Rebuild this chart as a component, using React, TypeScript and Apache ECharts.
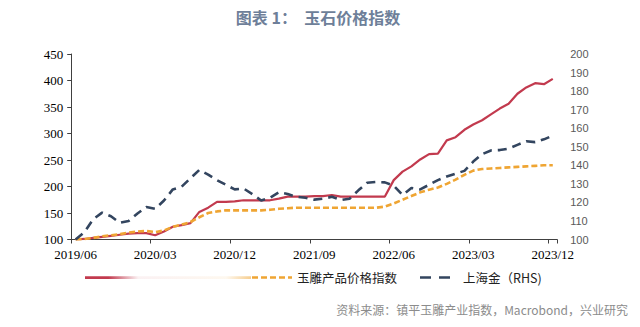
import React, { useEffect, useRef } from "react";
import * as echarts from "echarts";

const startYear = 2019;
const startMonth = 6;
const monthCount = 55;
const months: string[] = [];
for (let i = 0; i < monthCount; i++) {
  const m = startMonth - 1 + i;
  const y = startYear + Math.floor(m / 12);
  const mm = (m % 12) + 1;
  months.push(`${y}/${mm < 10 ? "0" + mm : mm}`);
}

const jadeIndex = [
  100, 101, 103, 105, 107, 109, 111, 112, 112, 108,
  115, 124, 127, 131, 152, 160, 171, 171, 172, 174,
  174, 174, 174, 177, 181, 181, 181, 182, 182, 184,
  181, 181, 181, 181, 181, 181, 212, 228, 238, 251,
  261, 262, 287, 293, 307, 317, 325, 336, 347, 356,
  375, 387, 395, 393, 403,
];

const carvingIndex = [
  100, 101, 103, 106, 108, 110, 113, 115, 116, 114,
  117, 124, 128, 133, 142, 150, 153, 155, 155, 155,
  155, 155, 156, 158, 159, 160, 160, 160, 160, 160,
  160, 160, 160, 160, 160, 162, 168, 175, 182, 189,
  194, 198, 205, 213, 222, 230, 233, 234, 235, 236,
  237, 238, 239, 240, 240,
];

const shanghaiGold = [
  100, 104, 111, 114.5, 112.5, 109, 110, 114, 117.5, 116.5,
  121, 127, 128.5, 133, 137.5, 135, 132, 129.5, 127, 127.5,
  124.5, 121, 122.5, 125.5, 124.5, 123, 122.5, 121.5, 122, 123,
  121.3, 122, 126.5, 130.6, 131, 130.8, 129, 124, 127.8, 127,
  129.5, 132, 134, 135.5, 137, 142, 146, 148, 148.2, 149,
  151, 153, 152.5, 154, 156,
];

const leftTicks = { min: 100, max: 450, interval: 50 };
const rightTicks = { min: 100, max: 200, interval: 10 };

const RED = "#C23A4E";
const ORANGE = "#EFA533";
const NAVY = "#33455F";

export default function App() {
  const ref = useRef<HTMLDivElement>(null);
  useEffect(() => {
    if (!ref.current) return;
    const chart = echarts.init(ref.current, undefined, { renderer: "svg" });
    chart.setOption({
      animation: false,
      backgroundColor: "#ffffff",
      grid: { left: 71.2, right: 82.8, top: 54, bottom: 87.5, containLabel: false },
      xAxis: {
        type: "category",
        data: months,
        boundaryGap: true,
        axisLine: { show: true, lineStyle: { color: "#404040", width: 1 } },
        axisTick: { show: true, interval: 8, length: 4, lineStyle: { color: "#404040" } },
        axisLabel: {
          interval: 8,
          margin: 8,
          color: "#000",
          fontFamily: "Liberation Serif",
          fontSize: 13,
        },
        splitLine: { show: false },
      },
      yAxis: [
        {
          type: "value",
          min: leftTicks.min,
          max: leftTicks.max,
          interval: leftTicks.interval,
          axisLine: { show: true, lineStyle: { color: "#404040", width: 1 } },
          axisTick: { show: true, length: 4, lineStyle: { color: "#404040" } },
          axisLabel: { color: "#000", fontFamily: "Liberation Serif", fontSize: 13, margin: 8 },
          splitLine: { show: false },
        },
        {
          type: "value",
          position: "right",
          min: rightTicks.min,
          max: rightTicks.max,
          interval: rightTicks.interval,
          axisLine: { show: false },
          axisTick: { show: false },
          axisLabel: { color: "#595959", fontFamily: "Liberation Sans", fontSize: 11, margin: 13 },
          splitLine: { show: false },
        },
      ],
      series: [
        {
          name: "玉石价格指数",
          type: "line",
          data: jadeIndex,
          yAxisIndex: 0,
          symbol: "none",
          lineStyle: { color: RED, width: 2.2 },
          itemStyle: { color: RED },
        },
        {
          name: "玉雕产品价格指数",
          type: "line",
          data: carvingIndex,
          yAxisIndex: 0,
          symbol: "none",
          lineStyle: { color: ORANGE, width: 2.6, type: [6, 3] },
          itemStyle: { color: ORANGE },
        },
        {
          name: "上海金（RHS)",
          type: "line",
          data: shanghaiGold,
          yAxisIndex: 1,
          symbol: "none",
          lineStyle: { color: NAVY, width: 2.6, type: [9, 6] },
          itemStyle: { color: NAVY },
        },
      ],
      graphic: [
        {
          type: "text",
          x: 318,
          y: 17,
          style: {
            text: "图表 1：  玉石价格指数",
            fill: "#6E7F99",
            font: "bold 16px 'Noto Sans CJK SC'",
            align: "center",
            verticalAlign: "middle",
          },
        },
        {
          type: "rect",
          shape: { x: 85, y: 276.3, width: 166, height: 2.6 },
          style: {
            fill: new echarts.graphic.LinearGradient(0, 0, 1, 0, [
              { offset: 0, color: "rgba(194,58,78,1)" },
              { offset: 0.14, color: "rgba(194,58,78,1)" },
              { offset: 0.32, color: "rgba(194,58,78,0.07)" },
              { offset: 0.85, color: "rgba(239,165,51,0.08)" },
              { offset: 1, color: "rgba(239,165,51,0.55)" },
            ]),
          },
        },
        {
          type: "line",
          shape: { x1: 252, y1: 277.5, x2: 292, y2: 277.5 },
          style: { stroke: ORANGE, lineWidth: 2.5, lineDash: [6, 3] },
        },
        {
          type: "text",
          x: 297,
          y: 277.5,
          style: {
            text: "玉雕产品价格指数",
            fill: "#222",
            font: "12.5px 'Noto Sans CJK SC'",
            verticalAlign: "middle",
          },
        },
        {
          type: "line",
          shape: { x1: 420, y1: 277.5, x2: 451, y2: 277.5 },
          style: { stroke: NAVY, lineWidth: 2.6, lineDash: [11, 8] },
        },
        {
          type: "text",
          x: 463,
          y: 277.5,
          style: {
            text: "上海金（RHS)",
            fill: "#222",
            font: "12.5px 'Noto Sans CJK SC'",
            verticalAlign: "middle",
          },
        },
        {
          type: "text",
          x: 628,
          y: 309,
          style: {
            text: "资料来源：镇平玉雕产业指数，Macrobond，兴业研究",
            fill: "#8C8C8C",
            font: "12px 'Noto Sans CJK SC'",
            align: "right",
            verticalAlign: "middle",
          },
        },
      ],
    });
    return () => chart.dispose();
  }, []);
  return <div ref={ref} style={{ width: 640, height: 327, position: "absolute", left: 0, top: 0 }} />;
}
